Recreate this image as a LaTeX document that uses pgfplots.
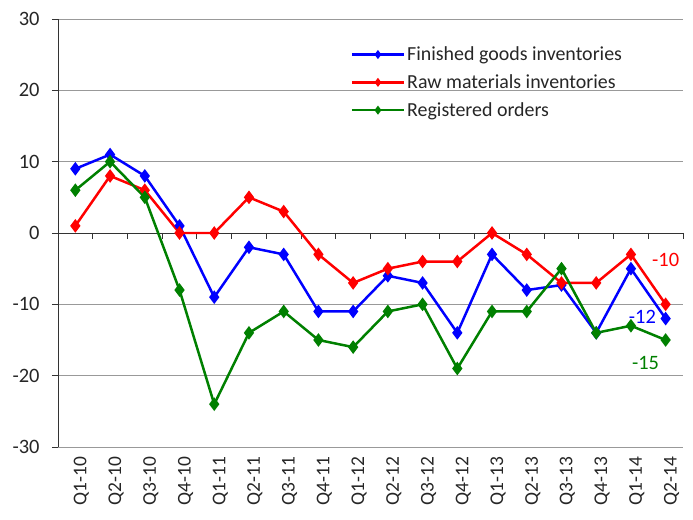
\documentclass[border=0pt]{standalone}
\usepackage{fontspec}
\setmainfont{Carlito}
\usepackage{pgfplots}
\pgfplotsset{compat=1.18}
\definecolor{gblue}{RGB}{0,0,255}
\definecolor{gred}{RGB}{255,0,0}
\definecolor{ggreen}{RGB}{0,128,0}
\begin{document}
\begin{tikzpicture}
\begin{axis}[
  name=ax,
  scale only axis,
  width=625bp, height=428bp,
  xmin=-0.5, xmax=17.5,
  ymin=-30, ymax=30,
  ytick={-30,-20,-10,0,10,20,30},
  xtick={0,...,17},
  xticklabels={Q1-10,Q2-10,Q3-10,Q4-10,Q1-11,Q2-11,Q3-11,Q4-11,Q1-12,Q2-12,Q3-12,Q4-12,Q1-13,Q2-13,Q3-13,Q4-13,Q1-14,Q2-14},
  x tick label style={rotate=90, anchor=east, yshift=-6bp, font=\fontsize{19.5}{20}\selectfont, text=black!85},
  y tick label style={xshift=-9bp, font=\fontsize{20.5}{22}\selectfont, text=black!85},
  /pgf/number format/assume math mode=true,
  axis lines*=left,
  x axis line style={draw=none},
  xtick style={draw=none},
  y axis line style={black!80, line width=1pt},
  ytick style={black!80, line width=1pt},
  tick align=outside,
  major tick length=6bp,
  ymajorgrids,
  grid style={black!40, line width=1pt},
  clip=false,
  legend cell align=left,
  legend style={at={(rel axis cs:0.468,0.94)}, anchor=north west, draw=none, fill=none,
    font=\fontsize{20}{22}\selectfont, text=black!85,
    row sep=8.5bp, inner sep=0pt},
  legend image code/.code={\draw[mark repeat=2,mark phase=2,mark size=2.5bp] plot coordinates {(0bp,0bp)(26bp,0bp)(52bp,0bp)};},
  every axis plot/.append style={line width=2.5pt, mark=diamond*, mark size=4.8bp, mark options={solid}},
]
\draw[black!80, line width=1pt] (axis cs:-0.5,0) -- (axis cs:17.5,0);
\pgfplotsinvokeforeach{0.5,1.5,2.5,3.5,4.5,5.5,6.5,7.5,8.5,9.5,10.5,11.5,12.5,13.5,14.5,15.5,16.5,17.5}{
  \draw[black!80, line width=1pt] (axis cs:#1,0) -- ([yshift=-6bp]axis cs:#1,0);
}
\addplot[color=gblue] coordinates {
(0,9)(1,11)(2,8)(3,1)(4,-9)(5,-2)(6,-3)(7,-11)(8,-11)(9,-6)(10,-7)(11,-14)(12,-3)(13,-8)(14,-7.3)(15,-14)(16,-5)(17,-12)};
\addlegendentry{Finished goods inventories}
\addplot[color=gred] coordinates {
(0,1)(1,8)(2,6)(3,0)(4,0)(5,5)(6,3)(7,-3)(8,-7)(9,-5)(10,-4)(11,-4)(12,0)(13,-3)(14,-7)(15,-7)(16,-3)(17,-10)};
\addlegendentry{Raw materials inventories}
\addplot[color=ggreen] coordinates {
(0,6)(1,10)(2,5)(3,-8)(4,-24)(5,-14)(6,-11)(7,-15)(8,-16)(9,-11)(10,-10)(11,-19)(12,-11)(13,-11)(14,-5)(15,-14)(16,-13)(17,-15)};
\addlegendentry{Registered orders}
\node[text=gred, font=\fontsize{20.5}{22}\selectfont] at (axis cs:17.0,-3.8) {-10};
\node[text=gblue, font=\fontsize{20.5}{22}\selectfont] at (axis cs:16.33,-11.8) {-12};
\node[text=ggreen, font=\fontsize{20.5}{22}\selectfont] at (axis cs:16.42,-18.2) {-15};
\end{axis}
\pgfresetboundingbox
\path[use as bounding box] ([xshift=-58bp,yshift=-73bp]ax.south west) rectangle ([xshift=10bp,yshift=19bp]ax.north east);
\end{tikzpicture}
\end{document}
